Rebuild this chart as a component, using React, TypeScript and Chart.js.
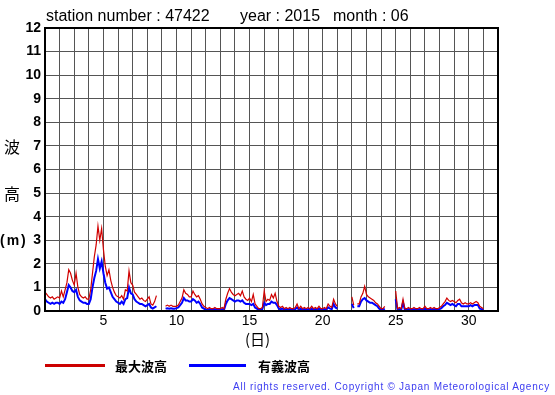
import React, { useEffect, useRef } from "react";
import { Chart, registerables } from "chart.js";

Chart.register(...registerables);

// 3-hourly samples starting at day 1 00:00 (8 per day), month 06 2015, station 47422
const maxWave: (number | null)[] = [
  // day 1
  0.8, 0.7, 0.6, 0.55, 0.6, 0.5, 0.55, 0.6,
  // day 2
  0.55, 0.85, 0.6, 0.9, 1.2, 1.75, 1.6, 1.3,
  // day 3
  1.1, 1.6, 1.0, 0.7, 0.6, 0.55, 0.6, 0.5,
  // day 4
  0.5, 0.9, 1.6, 2.3, 2.8, 3.6, 3.0, 3.5,
  // day 5
  2.6, 1.9, 1.5, 1.75, 1.3, 1.0, 0.8, 0.65,
  // day 6
  0.6, 0.55, 0.65, 0.5, 0.9, 0.85, 1.7, 1.2,
  // day 7
  1.1, 0.8, 0.7, 0.6, 0.5, 0.55, 0.45, 0.4,
  // day 8
  0.5, 0.6, 0.3, 0.25, 0.4, 0.65, null, null,
  // day 9
  null, null, 0.2, 0.25, 0.2, 0.25, 0.2, 0.2,
  // day 10
  0.2, 0.25, 0.4, 0.55, 0.9, 0.75, 0.7, 0.6,
  // day 11
  0.6, 0.85, 0.7, 0.6, 0.65, 0.5, 0.3, 0.2,
  // day 12
  0.15, 0.1, 0.15, 0.1, 0.1, 0.15, 0.1, 0.1,
  // day 13
  0.1, 0.15, 0.1, 0.5, 0.75, 0.95, 0.8, 0.7,
  // day 14
  0.65, 0.7, 0.75, 0.65, 0.85, 0.6, 0.5, 0.45,
  // day 15
  0.55, 0.4, 0.7, 0.3, 0.2, 0.1, 0.1, 0.15,
  // day 16
  0.85, 0.4, 0.5, 0.45, 0.7, 0.55, 0.75, 0.4,
  // day 17
  0.2, 0.15, 0.2, 0.1, 0.15, 0.1, 0.15, 0.1,
  // day 18
  0.1, 0.15, 0.3, 0.1, 0.2, 0.1, 0.15, 0.1,
  // day 19
  0.15, 0.1, 0.2, 0.1, 0.15, 0.1, 0.2, 0.1,
  // day 20
  0.1, 0.15, 0.1, 0.3, 0.2, 0.15, 0.5, 0.3,
  // day 21
  0.2, null, null, null, 0.1, null, 0.15, null,
  // day 22
  0.6, 0.25, null, 0.3, 0.3, 0.6, 0.75, 1.05,
  // day 23
  0.7, 0.6, 0.55, 0.5, 0.45, 0.35, 0.3, 0.2,
  // day 24
  0.1, 0.1, 0.2, null, null, null, null, null,
  // day 25
  0.85, 0.1, 0.15, 0.1, 0.5, 0.1, 0.1, 0.15,
  // day 26
  0.1, 0.1, 0.15, 0.1, 0.1, 0.15, 0.1, 0.1,
  // day 27
  0.2, 0.1, 0.1, 0.15, 0.1, 0.15, 0.1, 0.1,
  // day 28
  0.15, 0.2, 0.3, 0.4, 0.55, 0.45, 0.4, 0.45,
  // day 29
  0.4, 0.35, 0.45, 0.5, 0.35, 0.3, 0.35, 0.3,
  // day 30
  0.3, 0.35, 0.3, 0.35, 0.4, 0.35, 0.2, 0.15,
  // day 31
  0.1,
];

const sigWave: (number | null)[] = [
  0.5, 0.4, 0.35, 0.3, 0.35, 0.3, 0.35, 0.35,
  0.3, 0.4, 0.35, 0.5, 0.8, 1.1, 1.0, 0.85,
  0.8, 0.9, 0.6, 0.45, 0.4, 0.35, 0.35, 0.3,
  0.3, 0.5, 1.0, 1.4, 1.7, 2.2, 1.8, 2.1,
  1.6, 1.2, 0.95, 1.0, 0.8, 0.6, 0.5, 0.4,
  0.35, 0.3, 0.4, 0.3, 0.5, 0.55, 1.0, 0.75,
  0.7, 0.5, 0.4, 0.35, 0.3, 0.3, 0.25, 0.2,
  0.25, 0.3, 0.15, 0.1, 0.15, 0.2, null, null,
  null, null, 0.1, 0.12, 0.1, 0.12, 0.1, 0.1,
  0.12, 0.15, 0.25, 0.35, 0.55, 0.45, 0.45, 0.4,
  0.4, 0.5, 0.45, 0.35, 0.4, 0.3, 0.15, 0.1,
  0.05, 0.05, 0.08, 0.05, 0.05, 0.08, 0.05, 0.05,
  0.05, 0.08, 0.05, 0.3, 0.45, 0.55, 0.5, 0.45,
  0.4, 0.45, 0.45, 0.4, 0.45, 0.35, 0.3, 0.3,
  0.3, 0.25, 0.3, 0.15, 0.1, 0.05, 0.05, 0.08,
  0.35, 0.25, 0.3, 0.3, 0.4, 0.35, 0.35, 0.25,
  0.1, 0.08, 0.1, 0.05, 0.08, 0.05, 0.08, 0.05,
  0.05, 0.08, 0.15, 0.05, 0.1, 0.05, 0.08, 0.05,
  0.08, 0.05, 0.1, 0.05, 0.08, 0.05, 0.1, 0.05,
  0.05, 0.08, 0.05, 0.15, 0.1, 0.08, 0.3, 0.15,
  0.1, null, null, null, 0.05, null, 0.08, null,
  0.3, 0.12, null, 0.2, 0.2, 0.4, 0.5, 0.55,
  0.45, 0.4, 0.35, 0.35, 0.3, 0.25, 0.2, 0.1,
  0.05, 0.05, 0.1, null, null, null, null, null,
  0.5, 0.05, 0.08, 0.05, 0.35, 0.05, 0.05, 0.08,
  0.05, 0.05, 0.08, 0.05, 0.05, 0.08, 0.05, 0.05,
  0.1, 0.05, 0.05, 0.08, 0.05, 0.08, 0.05, 0.05,
  0.08, 0.12, 0.2, 0.25, 0.35, 0.3, 0.25, 0.3,
  0.25, 0.2, 0.3, 0.3, 0.2, 0.2, 0.2, 0.2,
  0.2, 0.25, 0.2, 0.25, 0.25, 0.25, 0.1, 0.08,
  0.05,
];

const samplesPerDay = 8;
const dayMin = 1;
const dayMax = 32;
const xTickLabels = [5, 10, 15, 20, 25, 30];
const waveMin = 0;
const waveMax = 12;

const titleStation = "station number : 47422";
const titleYear = "year : 2015";
const titleMonth = "month : 06";
const legendMax = "最大波高";
const legendSig = "有義波高";
const copyright = "All rights reserved. Copyright © Japan Meteorological Agency";

const SANS = '"Liberation Sans", Arial, Helvetica, sans-serif';
const CJK = '"Noto Sans CJK JP", "Noto Sans CJK SC", sans-serif';

const framePlugin = {
  id: "frame",
  afterDraw(chart: any) {
    const { ctx, chartArea } = chart;
    ctx.save();
    ctx.strokeStyle = "#000";
    ctx.lineWidth = 2;
    ctx.strokeRect(chartArea.left, chartArea.top, chartArea.right - chartArea.left, chartArea.bottom - chartArea.top);
    ctx.restore();
  },
};

function toPoints(values: (number | null)[]) {
  return values.map((v, i) => ({ x: dayMin + i / samplesPerDay, y: v }));
}

export default function App() {
  const ref = useRef<HTMLCanvasElement | null>(null);

  useEffect(() => {
    if (!ref.current) return;
    const chart = new Chart(ref.current, {
      type: "line",
      data: {
        datasets: [
          {
            label: legendMax,
            data: toPoints(maxWave) as any,
            borderColor: "#d00000",
            borderWidth: 1.2,
            pointRadius: 0,
            tension: 0,
            spanGaps: false,
          },
          {
            label: legendSig,
            data: toPoints(sigWave) as any,
            borderColor: "#0000ff",
            borderWidth: 2,
            pointRadius: 0,
            tension: 0,
            spanGaps: false,
          },
        ],
      },
      options: {
        responsive: false,
        animation: false,
        devicePixelRatio: 1,
        layout: { padding: { left: 0, top: 28, right: 57, bottom: 0 } },
        plugins: { legend: { display: false }, tooltip: { enabled: false } },
        scales: {
          x: {
            type: "linear",
            min: dayMin,
            max: dayMax,
            ticks: {
              stepSize: 1,
              autoSkip: false,
              maxRotation: 0,
              padding: 2,
              color: "#000",
              font: { family: SANS, size: 14 },
              callback: (v: any) => (xTickLabels.includes(Number(v)) ? String(v) : ""),
            },
            grid: { color: "#555", lineWidth: 1, drawTicks: false },
            border: { color: "#000", width: 2 },
            afterFit: (s: any) => {
              s.height = 84;
            },
          },
          y: {
            min: waveMin,
            max: waveMax,
            ticks: {
              stepSize: 1,
              padding: 4,
              color: "#000",
              font: { family: SANS, size: 14, weight: "bold" },
            },
            grid: { color: "#555", lineWidth: 1, drawTicks: false },
            border: { color: "#000", width: 2 },
            afterFit: (s: any) => {
              s.width = 45;
            },
          },
        },
      },
      plugins: [framePlugin],
    });
    return () => chart.destroy();
  }, []);

  const abs = (extra: React.CSSProperties): React.CSSProperties => ({
    position: "absolute",
    whiteSpace: "pre",
    color: "#000",
    ...extra,
  });

  return (
    <div style={{ position: "fixed", left: 0, top: 0, width: 555, height: 395, background: "#fff", overflow: "hidden" }}>
      <canvas ref={ref} width={555} height={395} style={{ position: "absolute", left: 0, top: 0, width: 555, height: 395 }} />
      <div style={abs({ left: 46, top: 8, font: `16px ${SANS}`, lineHeight: "16px" })}>{titleStation}</div>
      <div style={abs({ left: 240, top: 8, font: `16px ${SANS}`, lineHeight: "16px" })}>{titleYear}</div>
      <div style={abs({ left: 333, top: 8, font: `16px ${SANS}`, lineHeight: "16px" })}>{titleMonth}</div>
      <div style={abs({ left: 4, top: 137, font: `16px ${CJK}`, lineHeight: "18px" })}>波</div>
      <div style={abs({ left: 4, top: 184, font: `16px ${CJK}`, lineHeight: "18px" })}>高</div>
      <div style={abs({ left: 0, top: 231, font: `bold 14px ${SANS}`, lineHeight: "18px", letterSpacing: "2px" })}>(m)</div>
      <div style={abs({ left: 245, top: 330, font: `15px ${CJK}`, lineHeight: "18px" })}>(日)</div>
      <div style={abs({ left: 45, top: 364, width: 60, height: 3, background: "#cc0000" })} />
      <div style={abs({ left: 115, top: 357, font: `bold 13px ${CJK}`, lineHeight: "18px" })}>{legendMax}</div>
      <div style={abs({ left: 189, top: 364, width: 57, height: 3, background: "#0000ff" })} />
      <div style={abs({ left: 258, top: 357, font: `bold 13px ${CJK}`, lineHeight: "18px" })}>{legendSig}</div>
      <div style={abs({ right: 5, top: 381, font: `10px ${SANS}`, lineHeight: "12px", letterSpacing: "0.75px", color: "#3c3cf0" })}>{copyright}</div>
    </div>
  );
}
